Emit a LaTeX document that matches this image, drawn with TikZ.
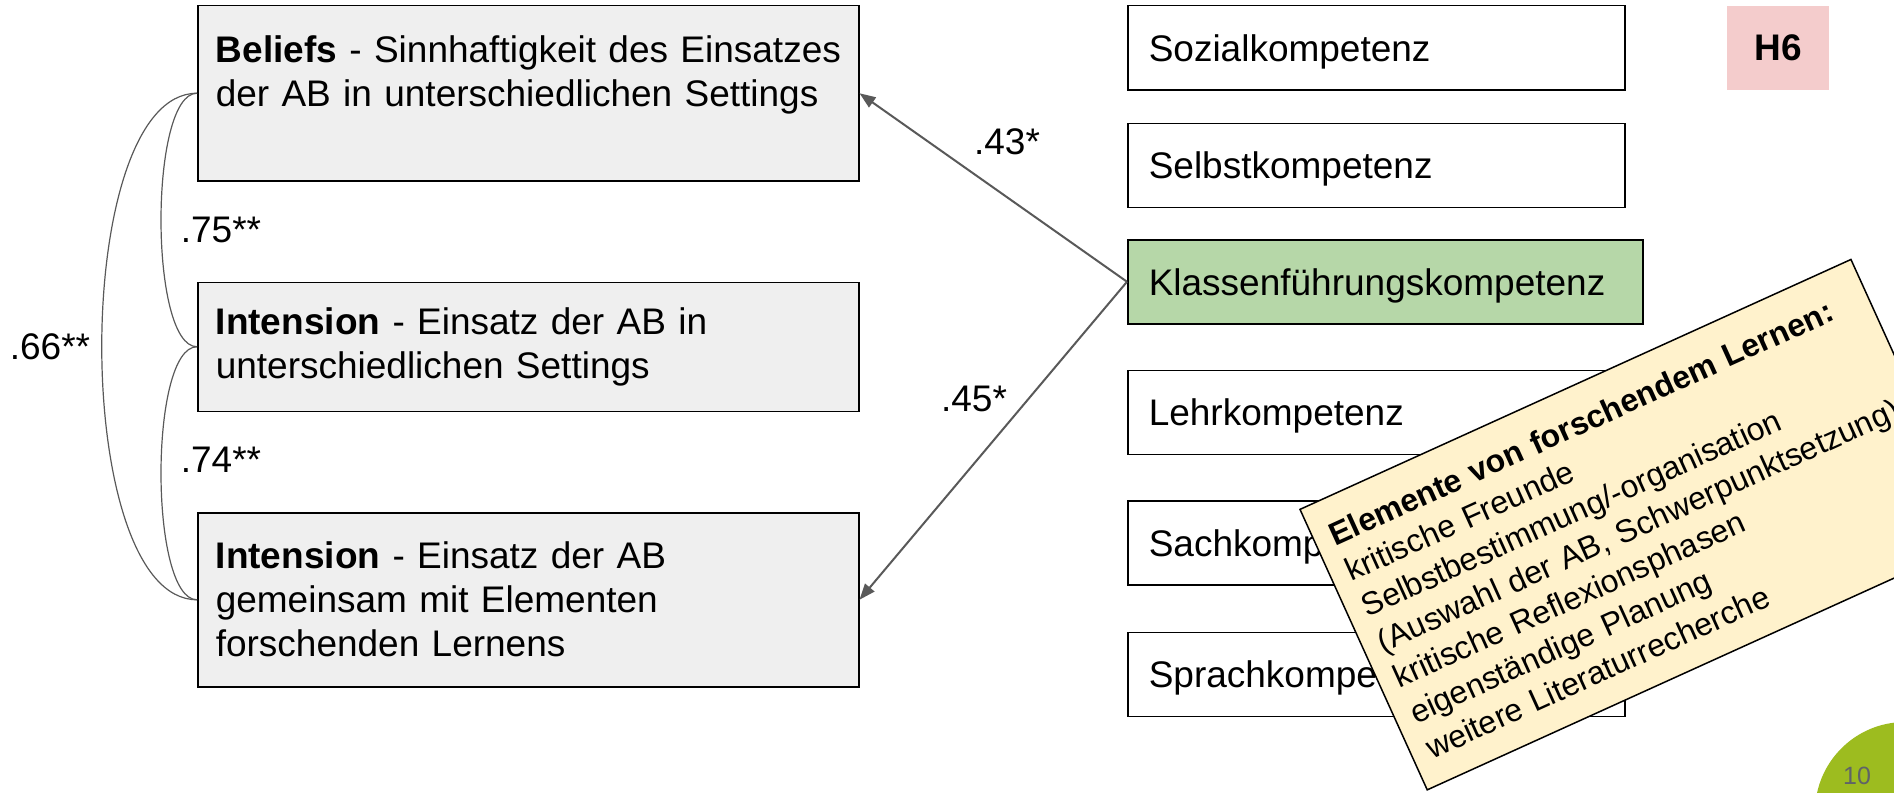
\documentclass[tikz,border=0pt]{standalone}
\usepackage{fontspec}
\setmainfont{Liberation Sans}
\usetikzlibrary{positioning,arrows.meta}
\definecolor{boxgrau}{HTML}{EFEFEF}
\definecolor{kfgruen}{HTML}{B6D7A8}
\definecolor{hrosa}{HTML}{F4CCCC}
\definecolor{notizgelb}{HTML}{FFF2CC}
\definecolor{pfeilgrau}{HTML}{595959}
\definecolor{foliengruen}{HTML}{9DBC1F}
\definecolor{seitengrau}{HTML}{5F6368}

\begin{document}
\begin{tikzpicture}[
    x=1pt, y=-1pt,
    every node/.style = {font=\fontsize{37}{44}\selectfont},
    lbox/.style = {draw, line width=1.5pt, fill=boxgrau, text width=625pt, inner xsep=18pt, align=left},
    kbox/.style = {draw, line width=1.5pt, fill=white, text width=455pt, inner xsep=21pt, minimum height=84pt, text depth=0pt, align=left},
    wert/.style = {inner sep=0pt},
    korr/.style = {pfeilgrau, line width=1.2pt},
    pfad/.style = {pfeilgrau, line width=2pt, -{Triangle[length=16pt,width=12pt]}},
    node distance = 100pt
  ]
  \useasboundingbox (0,0) rectangle (1894,792);

  \node[lbox, minimum height=175pt, anchor=north west] (beliefs) at (197,5) {\mbox{\textbf{Beliefs} - Sinnhaftigkeit des Einsatzes}\\der AB in unterschiedlichen Settings\\~};
  \node[lbox, minimum height=129pt, below=of beliefs] (intA) {\textbf{Intension} - Einsatz der AB in\\unterschiedlichen Settings};
  \node[lbox, minimum height=174pt, below=of intA] (intB) {\textbf{Intension} - Einsatz der AB\\gemeinsam mit Elementen\\forschenden Lernens};

  \node[kbox, anchor=north west] (sozial) at (1127,5) {Sozialkompetenz};
  \node[kbox, below=32pt of sozial] (selbst) {Selbstkompetenz};
  \node[kbox, fill=kfgruen, text width=473pt, below right=31pt and 0pt of selbst.south west] (klasse) {Klassenführungskompetenz};
  \node[kbox, below right=45pt and 0pt of klasse.south west] (lehr) {Lehrkompetenz};
  \node[kbox, below=45pt of lehr] (sach) {Sachkompetenz};
  \node[kbox, below=46pt of sach] (sprach) {Sprachkompetenz};

  \node[fill=hrosa, minimum width=102pt, minimum height=84pt, font=\fontsize{37}{44}\selectfont\bfseries, anchor=north west] (hsechs) at (1727,6) {H6};

  \draw[pfad] (klasse.west) -- (beliefs.east);
  \draw[pfad] (klasse.west) -- (intB.east);

  \draw[korr] (beliefs.west) .. controls +(left:127pt) and +(left:127pt) .. (intB.west);
  \draw[korr] (beliefs.west) .. controls +(left:48pt) and +(left:48pt) .. (intA.west);
  \draw[korr] (intA.west) .. controls +(left:48pt) and +(left:48pt) .. (intB.west);

  \node[wert] (w43) at (1007,142) {.43*};
  \node[wert] (w45) at (974,399) {.45*};
  \node[wert] (w75) at (221,230) {.75**};
  \node[wert] (w74) at (221,460) {.74**};
  \node[wert] (w66) at (50,347) {.66**};

  \node[draw, line width=1.5pt, fill=notizgelb, rotate=24.4, anchor=north west, minimum width=605pt, minimum height=308pt, text width=571pt, inner xsep=17pt, align=left, font=\fontsize{32}{39}\selectfont] (notiz) at (1299,509) {\mbox{\textbf{Elemente von forschendem Lernen:}}\\kritische Freunde\\Selbstbestimmung/-organisation\\\mbox{(Auswahl der AB, Schwerpunktsetzung)}\\kritische Reflexionsphasen\\eigenständige Planung\\weitere Literaturrecherche};

  \fill[foliengruen] (1905,812) circle[radius=90pt];
  \node[text=seitengrau, font=\fontsize{25}{30}\selectfont] (seite) at (1857,776) {10};
\end{tikzpicture}
\end{document}
